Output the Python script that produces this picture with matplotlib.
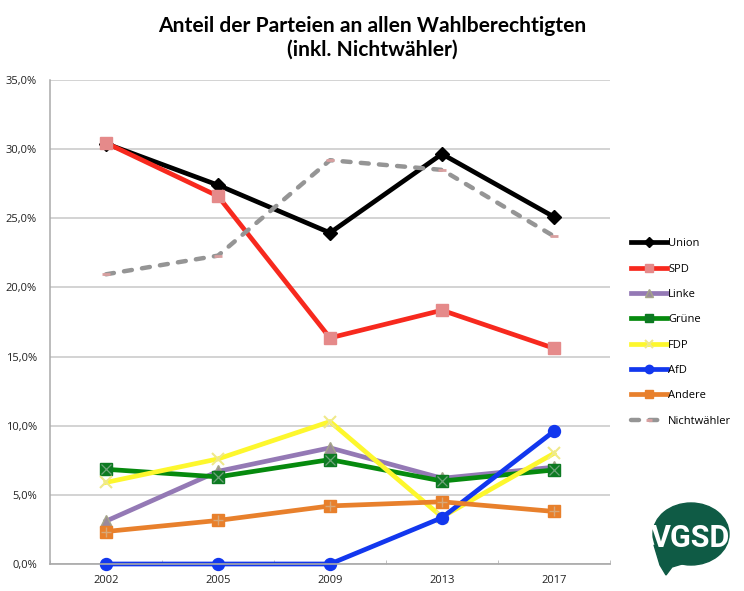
import numpy as np
import matplotlib.pyplot as plt
from matplotlib.patches import Ellipse, Polygon

# Anteil an allen Wahlberechtigten in %
years = ["2002", "2005", "2009", "2013", "2017"]
union = [30.4, 27.4, 23.95, 29.65, 25.1]
spd = [30.45, 26.6, 16.35, 18.35, 15.6]
linke = [3.1, 6.7, 8.4, 6.2, 7.0]
gruene = [6.85, 6.3, 7.55, 6.0, 6.8]
fdp = [5.9, 7.6, 10.3, 3.4, 8.0]
afd = [0.0, 0.0, 0.0, 3.35, 9.6]
andere = [2.35, 3.15, 4.2, 4.5, 3.8]
nichtwaehler = [20.95, 22.3, 29.2, 28.5, 23.7]
y_ticks = [0, 5, 10, 15, 20, 25, 30, 35]

W, H = 744, 591
LW = 3.4
plt.rcParams['font.family'] = ['Open Sans', 'DejaVu Sans']

fig = plt.figure(figsize=(W / 100, H / 100), dpi=100)
ax = fig.add_axes([50 / W, 1 - 564 / H, 560 / W, 484 / H])
x = np.arange(len(years))

# spaetere Reihen liegen oben, wie im Original
ax.plot(x, union, color="black", lw=LW, marker="D", ms=7, mfc="black", mec="black", label="Union", clip_on=False)
ax.plot(x, spd, color="#f7291e", lw=LW, marker="s", ms=8.6, mfc="#e58a8a", mec="#e58a8a", label="SPD", clip_on=False)
ax.plot(x, linke, color="#9479b5", lw=LW, marker="^", ms=8.6, mfc="#9a8a9c", mec="#a5a58a", label="Linke", clip_on=False)
ax.plot(x, gruene, color="#068a0e", lw=LW, marker="s", ms=8.6, mfc="#0d7a22", mec="#0d7a22", label="Grüne", clip_on=False)
ax.plot(x, gruene, color="none", marker="x", ms=6.5, mec="#6fa37a", mew=0.9, clip_on=False)
ax.plot(x, fdp, color="#fdf72d", lw=LW, marker="x", ms=8, mec="#efe98a", mew=1.5, label="FDP", clip_on=False)
ax.plot(x, afd, color="#1237ee", lw=LW, marker="o", ms=8.6, mfc="#1237ee", mec="#1237ee", label="AfD", clip_on=False)
ax.plot(x, andere, color="#e8802c", lw=LW, marker="s", ms=8.6, mfc="#e8802c", mec="#e8802c", label="Andere", clip_on=False)
ax.plot(x, andere, color="none", marker="+", ms=7.5, mec="#d8a878", mew=1, clip_on=False)
ax.plot(x, nichtwaehler, color="#959595", lw=3.2, dashes=(1.8, 2.3), dash_capstyle="round", marker="_", ms=6,
        mec="#d9a0a0", mew=2, label="Nichtwähler", clip_on=False)

ax.set_xlim(-0.5, 4.5)
ax.set_ylim(0, 35)
ax.set_yticks(y_ticks)
ax.set_yticklabels([f"{v},0%" for v in y_ticks], fontsize=8)
ax.set_xticks(x)
ax.set_xticklabels(years, fontsize=8)
ax.tick_params(axis="x", length=0, pad=8, colors="#222222")
ax.tick_params(axis="y", length=0, pad=9.4, colors="#222222")
ax.set_xticks(np.arange(-0.5, 5, 1), minor=True)
ax.tick_params(axis="x", which="minor", direction="in", length=3, color="#b5b5b5")
ax.grid(axis="y", color="#c8c8c8", lw=1.1)
ax.set_axisbelow(True)
for s in ["top", "right"]:
    ax.spines[s].set_visible(False)
ax.spines["left"].set_color("#aaaaaa")
ax.spines["left"].set_linewidth(1.1)
ax.spines["bottom"].set_color("#a8a8a8")
ax.spines["bottom"].set_linewidth(1.2)

h, l = ax.get_legend_handles_labels()
order = ["Union", "SPD", "Linke", "Grüne", "FDP", "AfD", "Andere", "Nichtwähler"]
pairs = dict(zip(l, h))
fig.legend([pairs[n] for n in order], order, loc="upper left", bbox_to_anchor=(628 / W, 1 - 235 / H),
           frameon=False, fontsize=8, handlelength=3.2, handletextpad=0.1, labelspacing=1.29,
           markerscale=0.7, borderaxespad=0, borderpad=0.3)

fig.text(372 / W, 1 - 38 / H, "Anteil der Parteien an allen Wahlberechtigten\n(inkl. Nichtwähler)",
         ha="center", va="center", fontsize=15.1, fontweight="bold", family=["Lato", "DejaVu Sans"],
         color="black", linespacing=1.2)

# Logo
logo = fig.add_axes([0, 0, 1, 1], facecolor="none")
logo.set_xlim(0, W)
logo.set_ylim(H, 0)
logo.axis("off")
logo.add_patch(Ellipse((691, 534), 76, 62, color="#0f5b45"))
logo.add_patch(Polygon([(654, 545), (660, 565), (666, 575), (672, 567), (692, 561), (705, 555)], color="#0f5b45"))
logo.text(690.5, 538, "VGSD", color="white", fontsize=22, fontweight="bold", ha="center", va="center",
          family=["Roboto", "DejaVu Sans"])

fig.savefig("out.png", dpi=100)
